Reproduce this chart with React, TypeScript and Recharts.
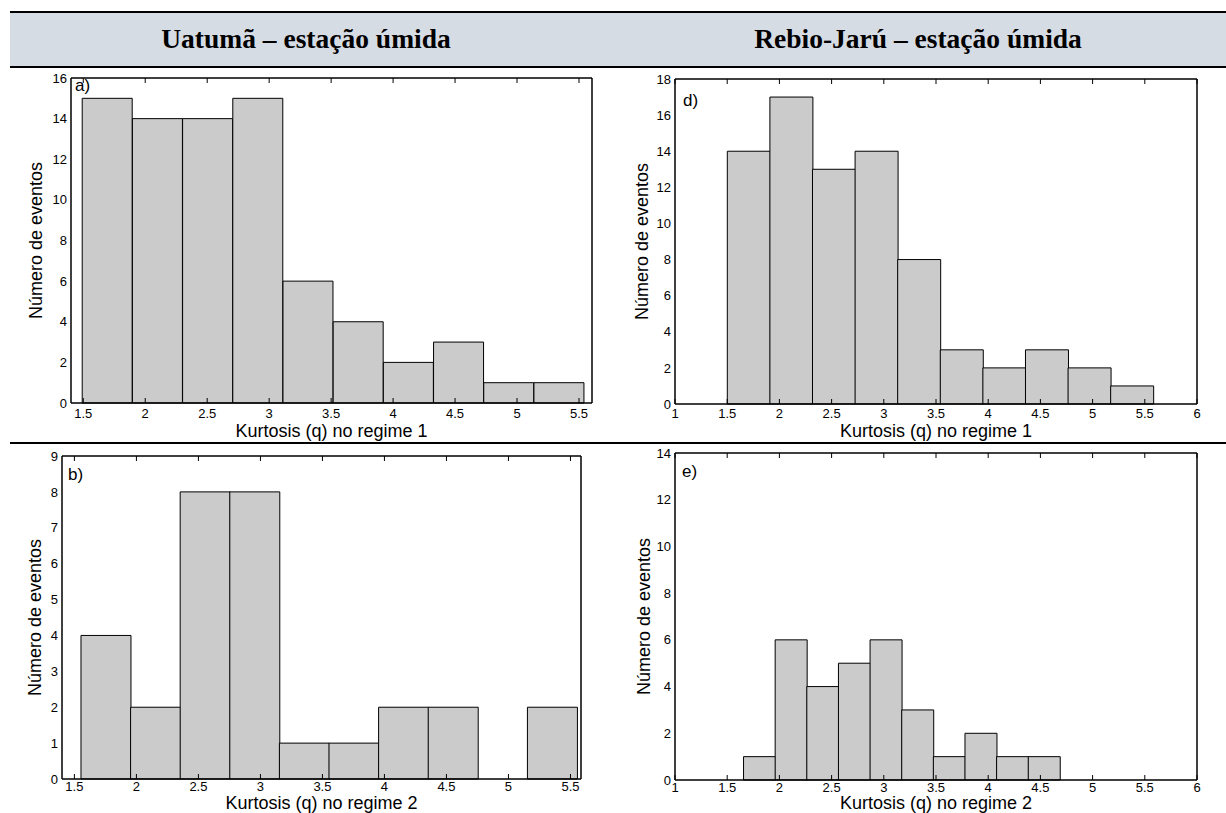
import React from 'react';
import { BarChart, Bar, XAxis, YAxis, Label } from 'recharts';

// valores (centros das classes e contagens)
const centersA = [1.694, 2.099, 2.504, 2.909, 3.314, 3.719, 4.124, 4.529, 4.934, 5.339];
const countsA = [15, 14, 14, 15, 6, 4, 2, 3, 1, 1];

const centersB = [1.753, 2.153, 2.553, 2.953, 3.353, 3.753, 4.153, 4.553, 4.953, 5.353];
const countsB = [4, 2, 8, 8, 1, 1, 2, 2, 0, 2];

const centersD = [1.705, 2.113, 2.521, 2.929, 3.337, 3.745, 4.153, 4.561, 4.969, 5.377];
const countsD = [14, 17, 13, 14, 8, 3, 2, 3, 2, 1];

const centersE = [1.808, 2.111, 2.414, 2.717, 3.02, 3.323, 3.626, 3.929, 4.232, 4.535];
const countsE = [1, 6, 4, 5, 6, 3, 1, 2, 1, 1];

const xTicksLeft = [1.5, 2, 2.5, 3, 3.5, 4, 4.5, 5, 5.5];
const xTicksRight = [1, 1.5, 2, 2.5, 3, 3.5, 4, 4.5, 5, 5.5, 6];

const yTicksA = [0, 2, 4, 6, 8, 10, 12, 14, 16];
const yTicksB = [0, 1, 2, 3, 4, 5, 6, 7, 8, 9];
const yTicksD = [0, 2, 4, 6, 8, 10, 12, 14, 16, 18];
const yTicksE = [0, 2, 4, 6, 8, 10, 12, 14];

const FONT = '"Liberation Sans", Arial, sans-serif';
const tickStyle = { fill: '#000', fontSize: 13, fontFamily: FONT };
const NoTick = () => <g />;

interface PanelProps {
  left: number;
  top: number;
  width: number;
  height: number;
  margin: { top: number; right: number; bottom: number; left: number };
  yAxisWidth: number;
  xAxisHeight: number;
  centers: number[];
  counts: number[];
  xDomain: [number, number];
  xTicks: number[];
  yTicks: number[];
  xLabel: string;
  xLabelOffset: number;
  xTickMargin: number;
}

function Panel(p: PanelProps) {
  const data = p.centers.map((c, i) => ({ k: c, n: p.counts[i] }));
  const yDomain: [number, number] = [0, p.yTicks[p.yTicks.length - 1]];
  const axisLine = { stroke: '#000', strokeWidth: 1.5 };
  const tickLine = { stroke: '#000', strokeWidth: 1 };
  return (
    <div style={{ position: 'absolute', left: p.left, top: p.top }}>
      <BarChart width={p.width} height={p.height} data={data} margin={p.margin} barCategoryGap={0}>
        <Bar
          dataKey="n"
          xAxisId="x"
          yAxisId="y"
          fill="#cbcbcb"
          stroke="#000"
          strokeWidth={1}
          isAnimationActive={false}
        />
        <XAxis
          xAxisId="x"
          dataKey="k"
          type="number"
          domain={p.xDomain}
          ticks={p.xTicks}
          interval={0}
          height={p.xAxisHeight}
          axisLine={axisLine}
          tickLine={false}
          tickSize={0}
          tickMargin={p.xTickMargin}
          tick={tickStyle}
        >
          <Label
            value={p.xLabel}
            position="insideBottom"
            offset={p.xLabelOffset}
            style={{ fill: '#000', fontSize: 18, fontFamily: FONT }}
          />
        </XAxis>
        <XAxis xAxisId="xb" dataKey="k" type="number" domain={p.xDomain} ticks={p.xTicks} interval={0}
          mirror axisLine={false} tickLine={tickLine} tickSize={5} tick={NoTick} />
        <XAxis xAxisId="xt" dataKey="k" orientation="top" type="number" domain={p.xDomain} ticks={p.xTicks} interval={0}
          mirror axisLine={axisLine} tickLine={tickLine} tickSize={5} tick={NoTick} />
        <YAxis
          yAxisId="y"
          domain={yDomain}
          ticks={p.yTicks}
          interval={0}
          width={p.yAxisWidth}
          axisLine={axisLine}
          tickLine={false}
          tickSize={0}
          tickMargin={4}
          tick={tickStyle}
        >
          <Label
            value="Número de eventos"
            angle={-90}
            position="center"
            style={{ fill: '#000', fontSize: 18, fontFamily: FONT, textAnchor: 'middle' }}
          />
        </YAxis>
        <YAxis yAxisId="yl" domain={yDomain} ticks={p.yTicks} interval={0}
          mirror axisLine={false} tickLine={tickLine} tickSize={5} tick={NoTick} />
        <YAxis yAxisId="yr" orientation="right" domain={yDomain} ticks={p.yTicks} interval={0}
          mirror axisLine={axisLine} tickLine={tickLine} tickSize={5} tick={NoTick} />
      </BarChart>
    </div>
  );
}

const letterStyle: React.CSSProperties = {
  position: 'absolute',
  fontFamily: FONT,
  fontSize: 17,
  lineHeight: '17px',
  color: '#000',
};

const hrStyle = (top: number): React.CSSProperties => ({
  position: 'absolute',
  left: 10,
  top,
  width: 1216,
  height: 2,
  background: '#000',
});

const headStyle = (cx: number): React.CSSProperties => ({
  position: 'absolute',
  left: cx - 250,
  width: 500,
  top: 22,
  textAlign: 'center',
  fontFamily: '"Liberation Serif", "Times New Roman", serif',
  fontWeight: 'bold',
  fontSize: 27.5,
  lineHeight: '34px',
  color: '#000',
});

export default function App() {
  return (
    <div style={{ position: 'absolute', left: 0, top: 0, width: 1226, height: 813, background: '#fff', overflow: 'hidden' }}>
      <div style={{ position: 'absolute', left: 10, top: 12, width: 1216, height: 55, background: '#d6dce4' }} />
      <div style={hrStyle(11)} />
      <div style={hrStyle(66)} />
      <div style={hrStyle(442)} />
      <div style={headStyle(306)}>Uatumã – estação úmida</div>
      <div style={headStyle(918)}>Rebio-Jarú – estação úmida</div>

      <Panel
        left={0} top={60} width={612} height={383}
        margin={{ top: 18, right: 20, bottom: 0, left: 1 }}
        yAxisWidth={70} xAxisHeight={40}
        centers={centersA} counts={countsA}
        xDomain={[1.401, 5.605]} xTicks={xTicksLeft} yTicks={yTicksA}
        xLabel="Kurtosis (q) no regime 1" xLabelOffset={6} xTickMargin={6}
      />
      <Panel
        left={600} top={60} width={626} height={383}
        margin={{ top: 19, right: 29, bottom: 0, left: 9 }}
        yAxisWidth={66} xAxisHeight={39}
        centers={centersD} counts={countsD}
        xDomain={[1, 6]} xTicks={xTicksRight} yTicks={yTicksD}
        xLabel="Kurtosis (q) no regime 1" xLabelOffset={6} xTickMargin={5}
      />
      <Panel
        left={0} top={445} width={612} height={368}
        margin={{ top: 11, right: 31, bottom: 0, left: 8 }}
        yAxisWidth={54} xAxisHeight={34}
        centers={centersB} counts={countsB}
        xDomain={[1.4, 5.585]} xTicks={xTicksLeft} yTicks={yTicksB}
        xLabel="Kurtosis (q) no regime 2" xLabelOffset={4} xTickMargin={3}
      />
      <Panel
        left={600} top={445} width={626} height={368}
        margin={{ top: 8, right: 29, bottom: 0, left: 13 }}
        yAxisWidth={62} xAxisHeight={33}
        centers={centersE} counts={countsE}
        xDomain={[1, 6]} xTicks={xTicksRight} yTicks={yTicksE}
        xLabel="Kurtosis (q) no regime 2" xLabelOffset={4} xTickMargin={3}
      />

      <div style={{ ...letterStyle, left: 75, top: 77 }}>a)</div>
      <div style={{ ...letterStyle, left: 683, top: 92 }}>d)</div>
      <div style={{ ...letterStyle, left: 68, top: 466 }}>b)</div>
      <div style={{ ...letterStyle, left: 682, top: 463 }}>e)</div>
    </div>
  );
}
